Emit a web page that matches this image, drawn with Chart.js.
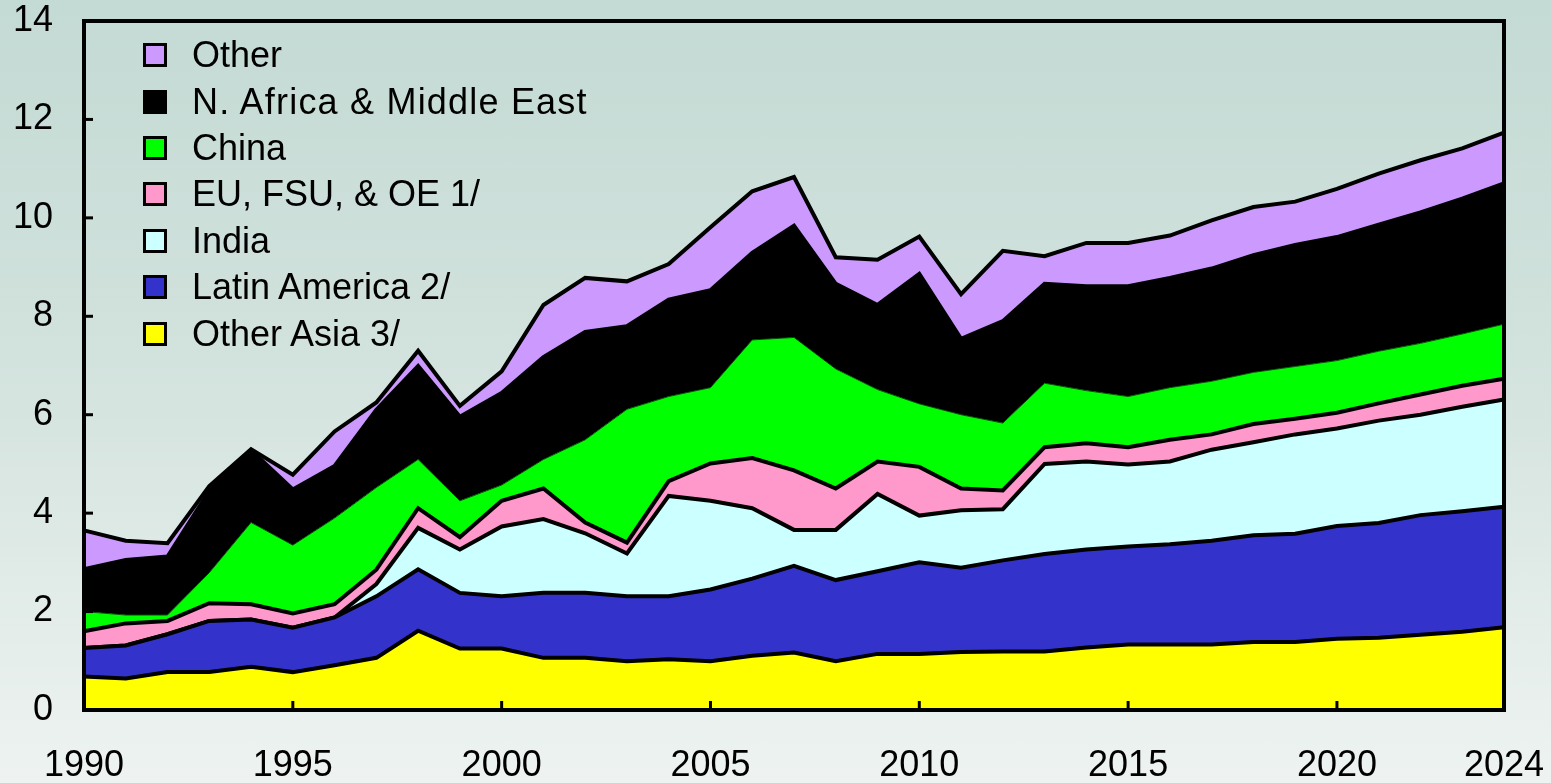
<!DOCTYPE html>
<html>
<head>
<meta charset="utf-8">
<script src="https://cdn.jsdelivr.net/npm/chart.js@4.4.1/dist/chart.umd.min.js"></script>
<style>
  html, body { margin: 0; padding: 0; }
  body {
    width: 1551px; height: 783px; overflow: hidden;
    background: linear-gradient(to bottom, #c4dad4 0%, #d2e2dd 45%, #eef3f1 100%);
    font-family: 'Liberation Sans', Arial, sans-serif;
  }
  #wrap { position: relative; width: 1551px; height: 783px; }
  canvas { position: absolute; left: 0; top: 0; }
  #legend { position: absolute; left: 143px; top: 32px; }
  .row { height: 46.4px; display: flex; align-items: center; font-size: 36px; color: #000; white-space: nowrap; }
  .box { width: 24px; height: 24px; box-sizing: border-box; border: 3px solid #000; margin-right: 25px; flex: none; }
</style>
</head>
<body>
<div id="wrap">
  <canvas id="c" width="1551" height="783"></canvas>
  <div id="legend"></div>
</div>
<script>
const years = [1990,1991,1992,1993,1994,1995,1996,1997,1998,1999,2000,2001,2002,2003,2004,2005,2006,2007,2008,2009,2010,2011,2012,2013,2014,2015,2016,2017,2018,2019,2020,2021,2022,2023,2024];
const xTickYears = [1990,1995,2000,2005,2010,2015,2020,2024];
const yTicks = [0,2,4,6,8,10,12,14];

const otherAsia = [0.68,0.64,0.77,0.77,0.88,0.77,0.91,1.06,1.61,1.25,1.25,1.06,1.06,0.99,1.03,0.99,1.10,1.17,0.99,1.14,1.14,1.18,1.19,1.19,1.27,1.33,1.33,1.33,1.38,1.38,1.45,1.47,1.53,1.59,1.68];
const latinAmerica = [0.58,0.67,0.77,1.04,0.96,0.90,0.97,1.25,1.25,1.13,1.06,1.32,1.32,1.32,1.28,1.46,1.57,1.76,1.65,1.68,1.86,1.71,1.85,1.98,1.99,1.99,2.04,2.11,2.17,2.20,2.29,2.33,2.43,2.45,2.45];
const india = [0,0,0,0,0,0,0,0.25,0.84,0.88,1.42,1.50,1.21,0.87,2.04,1.80,1.43,0.73,1.02,1.57,0.95,1.17,1.04,1.83,1.79,1.67,1.68,1.85,1.89,2.02,1.98,2.08,2.04,2.12,2.18];
const euFsuOe = [0.34,0.45,0.27,0.36,0.31,0.29,0.27,0.29,0.40,0.25,0.52,0.62,0.22,0.22,0.30,0.76,1.02,1.21,0.84,0.66,0.99,0.44,0.38,0.34,0.37,0.35,0.44,0.31,0.37,0.32,0.32,0.35,0.41,0.43,0.42];
const china = [0.40,0.17,0.12,0.62,1.66,1.39,1.75,1.67,0.99,0.74,0.32,0.59,1.68,2.71,1.72,1.54,2.40,2.70,2.43,1.46,1.28,1.50,1.37,1.30,1.07,1.03,1.06,1.08,1.05,1.06,1.06,1.06,1.04,1.05,1.11];
const nAfricaME = [0.86,1.12,1.19,1.66,1.47,1.13,1.06,1.58,1.90,1.71,1.87,2.08,2.19,1.69,1.97,1.98,1.77,2.27,1.73,1.72,2.64,1.54,2.07,2.02,2.12,2.24,2.23,2.29,2.38,2.47,2.51,2.57,2.66,2.75,2.86];
const other = [0.79,0.39,0.27,0.10,0.02,0.30,0.70,0.15,0.31,0.22,0.44,1.06,1.10,0.91,0.72,1.28,1.25,0.99,0.54,0.92,0.76,0.91,1.43,0.56,0.88,0.88,0.86,0.98,0.98,0.88,0.98,1.04,1.06,1.02,1.03];

const seriesNames = ['Other Asia 3/','Latin America 2/','India','EU, FSU, & OE 1/','China','N. Africa & Middle East','Other'];
const seriesData = [otherAsia, latinAmerica, india, euFsuOe, china, nAfricaME, other];
const seriesColors = ['#FFFF00','#3333CC','#CCFFFF','#FF99CC','#00FF00','#000000','#CC99FF'];
const borderColors = ['#000','#000','#000','#000','#0a4a0a','#000','#000'];
const borderWidths = [4,4,4,4,1,4,4];

const datasets = seriesNames.map((name, i) => ({
  label: name,
  data: seriesData[i],
  backgroundColor: seriesColors[i],
  borderColor: borderColors[i],
  borderWidth: borderWidths[i],
  borderJoinStyle: 'miter',
  fill: i === 0 ? 'origin' : '-1',
  pointRadius: 0,
  tension: 0
}));

// legend (HTML, reversed order)
const legendEl = document.getElementById('legend');
for (let i = seriesNames.length - 1; i >= 0; i--) {
  const row = document.createElement('div');
  row.className = 'row';
  const box = document.createElement('div');
  box.className = 'box';
  box.style.background = seriesColors[i];
  const txt = document.createElement('span');
  txt.textContent = seriesNames[i];
  if (seriesNames[i].startsWith('N. Africa')) txt.style.letterSpacing = '1.2px';
  row.appendChild(box); row.appendChild(txt);
  legendEl.appendChild(row);
}

const framePlugin = {
  id: 'frame',
  afterDraw(chart) {
    const ctx = chart.ctx;
    const a = chart.chartArea;
    const xs = chart.scales.x, ys = chart.scales.y;
    ctx.save();
    ctx.strokeStyle = '#000';
    ctx.lineWidth = 4;
    ctx.strokeRect(a.left, a.top, a.right - a.left, a.bottom - a.top);
    ctx.lineWidth = 3;
    xTickYears.forEach(yr => {
      if (yr === years[0] || yr === years[years.length - 1]) return;
      const px = xs.getPixelForValue(years.indexOf(yr));
      ctx.beginPath(); ctx.moveTo(px, a.bottom); ctx.lineTo(px, a.bottom - 9); ctx.stroke();
    });
    yTicks.forEach(v => {
      if (v === yTicks[0] || v === yTicks[yTicks.length - 1]) return;
      const py = ys.getPixelForValue(v);
      ctx.beginPath(); ctx.moveTo(a.left, py); ctx.lineTo(a.left + 9, py); ctx.stroke();
    });
    ctx.restore();
  }
};

new Chart(document.getElementById('c'), {
  type: 'line',
  data: { labels: years.map(String), datasets },
  options: {
    responsive: false,
    animation: false,
    devicePixelRatio: 1,
    layout: { padding: { top: 21, right: 47, left: 0, bottom: 0 } },
    plugins: { legend: { display: false }, tooltip: { enabled: false } },
    scales: {
      x: {
        type: 'category',
        offset: false,
        grid: { display: false, drawTicks: false },
        border: { display: false },
        ticks: {
          autoSkip: false, maxRotation: 0, minRotation: 0, padding: 34, align: 'center',
          color: '#000',
          font: { family: "'Liberation Sans', Arial, sans-serif", size: 36 },
          callback: function(val, idx) { const yr = years[idx]; return xTickYears.includes(yr) ? String(yr) : ''; }
        },
        afterFit(s) { s.height = 73; s.paddingRight = 0; }
      },
      y: {
        stacked: true,
        min: 0, max: 14,
        grid: { display: false, drawTicks: false },
        border: { display: false },
        ticks: {
          stepSize: 2, padding: 31, color: '#000',
          font: { family: "'Liberation Sans', Arial, sans-serif", size: 36 }
        },
        afterFit(s) { s.width = 84; s.paddingTop = 0; s.paddingBottom = 0; }
      }
    }
  },
  plugins: [framePlugin]
});
</script>
</body>
</html>
